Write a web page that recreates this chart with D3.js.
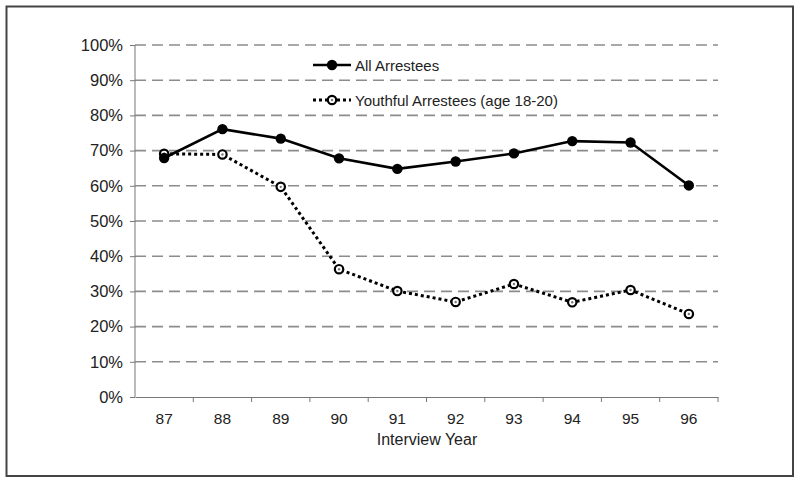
<!DOCTYPE html>
<html><head><meta charset="utf-8">
<script src="https://cdn.jsdelivr.net/npm/d3@7"></script>
<style>body{margin:0;background:#fff}svg{display:block}</style>
</head><body>
<svg id="c" width="800" height="483"></svg>
<script>
const years = ["87","88","89","90","91","92","93","94","95","96"];
const allArrestees = [67.9, 76.1, 73.4, 67.8, 64.8, 66.9, 69.2, 72.7, 72.3, 60.1];
const youthful = [69.1, 68.9, 59.7, 36.3, 30.1, 27.0, 32.1, 26.9, 30.4, 23.6];
const yTicks = [0,10,20,30,40,50,60,70,80,90,100];
const seriesNames = ["All Arrestees", "Youthful Arrestees (age 18-20)"];

const svg = d3.select("#c");
const font = "'Liberation Sans', Arial, sans-serif";
svg.append("rect").attr("x",6.5).attr("y",6.5).attr("width",786.5).attr("height",469.5)
  .attr("fill","none").attr("stroke","#444").attr("stroke-width",2);

const x = d3.scaleBand().domain(years).range([135,718]);
const y = d3.scaleLinear().domain([0,100]).range([397,45]);

// gridlines
svg.append("g").selectAll("line").data(yTicks.filter(d=>d>0)).join("line")
  .attr("x1",135).attr("x2",718).attr("y1",d=>y(d)).attr("y2",d=>y(d))
  .attr("stroke","#8c8c8c").attr("stroke-width",1.6).attr("stroke-dasharray","11,6");

// y axis
const ya = svg.append("g").attr("transform","translate(135,0)")
  .call(d3.axisLeft(y).tickValues(yTicks).tickFormat(d=>d+"%").tickSize(5).tickPadding(7));
ya.select(".domain").attr("stroke","#777").attr("d","M0,45V397");
ya.selectAll(".tick line").attr("stroke","#777");
ya.selectAll("text").attr("font-family",font).attr("font-size",16.5).attr("fill","#222");

// x axis
const xa = svg.append("g").attr("transform","translate(0,397)")
  .call(d3.axisBottom(x).tickSize(0).tickPadding(16));
xa.select(".domain").attr("stroke","#777");
xa.selectAll("text").attr("font-family",font).attr("font-size",15.5).attr("fill","#222");
// tick marks at band boundaries
xa.append("g").selectAll("line").data(years).join("line")
  .attr("x1",d=>x(d)+x.bandwidth()).attr("x2",d=>x(d)+x.bandwidth())
  .attr("y1",0).attr("y2",5).attr("stroke","#777");

svg.append("text").attr("x",427).attr("y",445).attr("text-anchor","middle")
  .attr("font-family",font).attr("font-size",16).attr("fill","#222").text("Interview Year");

const cx = d => x(d)+x.bandwidth()/2;
const line = d3.line().x((d,i)=>cx(years[i])).y(d=>y(d));

// youthful
svg.append("path").attr("d",line(youthful)).attr("fill","none").attr("stroke","#000")
  .attr("stroke-width",3).attr("stroke-dasharray","3,3");
const yg = svg.append("g").selectAll("g").data(youthful).join("g")
  .attr("transform",(d,i)=>`translate(${cx(years[i])},${y(d)})`);
yg.append("circle").attr("r",4.2).attr("fill","#fff").attr("stroke","#000").attr("stroke-width",2.2);
yg.append("circle").attr("r",1.2).attr("fill","#777");

// all arrestees
svg.append("path").attr("d",line(allArrestees)).attr("fill","none").attr("stroke","#000")
  .attr("stroke-width",2.6);
svg.append("g").selectAll("circle").data(allArrestees).join("circle")
  .attr("cx",(d,i)=>cx(years[i])).attr("cy",d=>y(d)).attr("r",5.2).attr("fill","#000");

// legend
const lg = svg.append("g");
lg.append("line").attr("x1",313).attr("x2",351).attr("y1",65).attr("y2",65).attr("stroke","#000").attr("stroke-width",2.6);
lg.append("circle").attr("cx",332).attr("cy",65).attr("r",5.2).attr("fill","#000");
lg.append("line").attr("x1",313).attr("x2",351).attr("y1",100).attr("y2",100).attr("stroke","#000")
  .attr("stroke-width",3).attr("stroke-dasharray","3,3");
lg.append("circle").attr("cx",332).attr("cy",100).attr("r",4.2).attr("fill","#fff").attr("stroke","#000").attr("stroke-width",2.2);
lg.append("circle").attr("cx",332).attr("cy",100).attr("r",1.2).attr("fill","#777");
lg.selectAll("text").data(seriesNames).join("text")
  .attr("x",355).attr("y",(d,i)=>i?105.5:70.5).attr("font-family",font).attr("font-size",15).attr("fill","#222").text(d=>d);
</script>
</body></html>
